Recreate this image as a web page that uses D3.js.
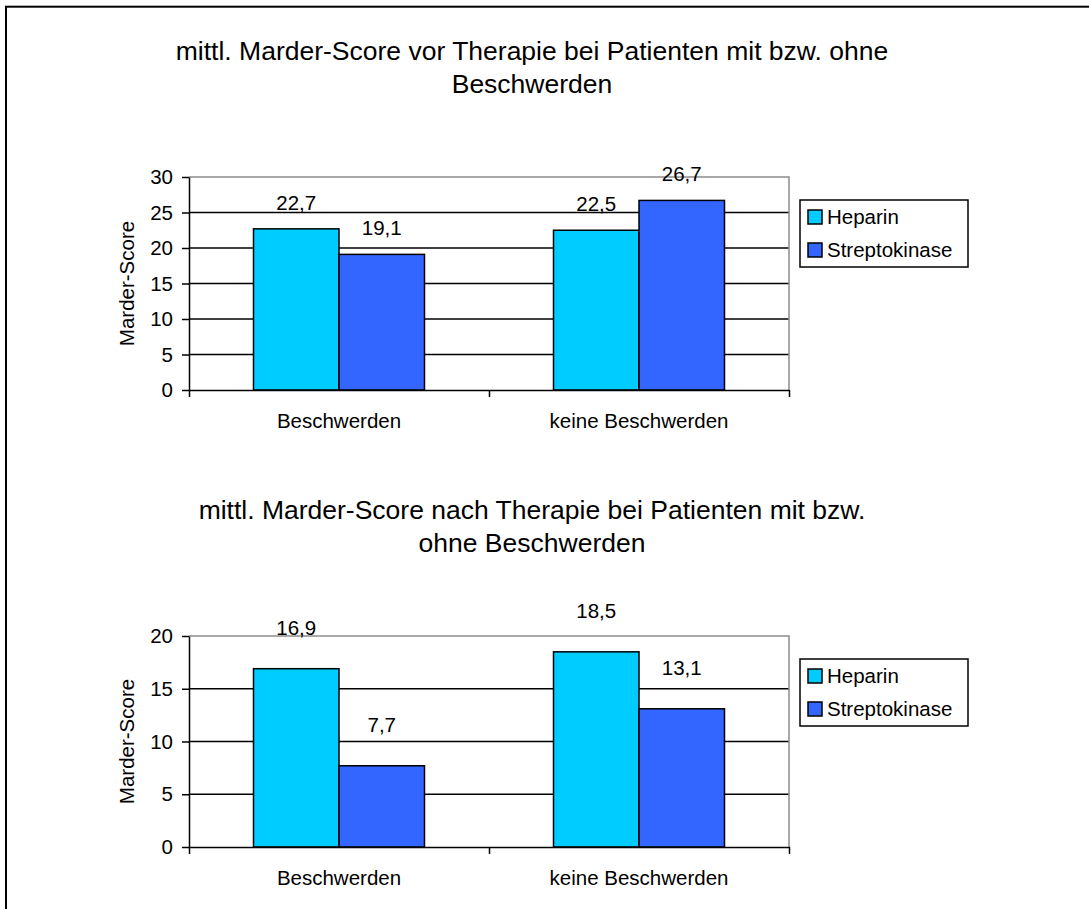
<!DOCTYPE html>
<html>
<head>
<meta charset="utf-8">
<script src="https://cdn.jsdelivr.net/npm/d3@7"></script>
<style>
  body { margin: 0; background: #fff; }
  svg { display: block; font-family: "Liberation Sans", Arial, sans-serif; }
</style>
</head>
<body>
<div id="chart"></div>
<script>

// data
var categories = ["Beschwerden", "keine Beschwerden"];
var seriesNames = ["Heparin", "Streptokinase"];
var vorHeparin = [22.7, 22.5];
var vorStreptokinase = [19.1, 26.7];
var nachHeparin = [16.9, 18.5];
var nachStreptokinase = [7.7, 13.1];
var vorTicks = [0, 5, 10, 15, 20, 25, 30];
var nachTicks = [0, 5, 10, 15, 20];
var vorTitle = ["mittl. Marder-Score vor Therapie bei Patienten mit bzw. ohne", "Beschwerden"];
var nachTitle = ["mittl. Marder-Score nach Therapie bei Patienten mit bzw.", "ohne Beschwerden"];
var yLabel = "Marder-Score";
var colors = ["#00CCFF", "#3366FF"];

var fmt = d3.formatLocale({decimal: ",", thousands: ".", grouping: [3], currency: ["", "€"]}).format(".1f");

function barChart() {

  var top = 177;
  var bottom = 390;
  var left = 189;
  var right = 789;
  var ticks = [0, 10];
  var title = [];
  var labelLift = 20;

  function chart(root, data) {

    var yScale = d3.scaleLinear()
      .domain([0, ticks[ticks.length - 1]])
      .range([bottom, top]);

    var x0 = d3.scaleBand()
      .domain(categories)
      .range([left, right])
      .paddingInner(0.43)
      .paddingOuter(0.215);

    var x1 = d3.scaleBand()
      .domain(seriesNames)
      .range([0, x0.bandwidth()]);

    var g = root.append("g");

    // title, two lines
    g.selectAll(".title")
      .data(title)
      .enter().append("text")
      .attr("class", "title")
      .attr("x", 532)
      .attr("y", function(d, i) { return top - 117 + i * 33; })
      .attr("text-anchor", "middle")
      .style("font-size", "26.5px")
      .text(function(d) { return d; });

    // grid lines between the axis and the top border
    g.selectAll(".grid")
      .data(ticks.filter(function(t) { return t > 0 && t < ticks[ticks.length - 1]; }))
      .enter().append("line")
      .attr("class", "grid")
      .attr("x1", left).attr("x2", right)
      .attr("y1", yScale).attr("y2", yScale)
      .attr("stroke", "#000")
      .attr("stroke-width", 1.5);

    // plot border, top and right, grey
    g.append("path")
      .attr("d", "M" + left + "," + top + "H" + right + "V" + bottom)
      .attr("fill", "none")
      .attr("stroke", "#8c8c8c")
      .attr("stroke-width", 1.5);

    // bars
    var rows = categories.map(function(c, i) {
      return seriesNames.map(function(s, j) {
        return {cat: c, series: s, value: data[j][i], color: colors[j]};
      });
    });
    var flat = d3.merge(rows);

    g.selectAll(".bar")
      .data(flat)
      .enter().append("rect")
      .attr("class", "bar")
      .attr("x", function(d) { return x0(d.cat) + x1(d.series); })
      .attr("y", function(d) { return yScale(d.value); })
      .attr("width", x1.bandwidth())
      .attr("height", function(d) { return bottom - yScale(d.value); })
      .attr("fill", function(d) { return d.color; })
      .attr("stroke", "#000")
      .attr("stroke-width", 1.5);

    g.selectAll(".value")
      .data(flat)
      .enter().append("text")
      .attr("class", "value")
      .attr("x", function(d) { return x0(d.cat) + x1(d.series) + x1.bandwidth() / 2; })
      .attr("y", function(d) { return yScale(d.value) - labelLift; })
      .attr("text-anchor", "middle")
      .style("font-size", "20.5px")
      .text(function(d) { return fmt(d.value); });

    // y axis
    var yAxis = g.append("g")
      .attr("transform", "translate(" + left + ",0)")
      .call(d3.axisLeft(yScale).tickValues(ticks).tickSize(7).tickSizeOuter(0).tickPadding(9).tickFormat(d3.format("d")));
    yAxis.select(".domain").attr("stroke", "#000").attr("stroke-width", 1.5);
    yAxis.selectAll(".tick line").attr("stroke", "#000").attr("stroke-width", 1.5);
    yAxis.selectAll(".tick text")
      .attr("fill", "#000")
      .style("font-family", "\"Liberation Sans\", Arial, sans-serif")
      .style("font-size", "20.5px");

    // x axis, ticks on the category boundaries
    var edge = d3.scaleLinear().domain([0, categories.length]).range([left, right]);
    var xAxis = g.append("g")
      .attr("transform", "translate(0," + bottom + ")")
      .call(d3.axisBottom(edge).tickValues(d3.range(categories.length + 1)).tickSize(7).tickSizeOuter(0).tickFormat(""));
    xAxis.select(".domain").attr("stroke", "#000").attr("stroke-width", 1.5);
    xAxis.selectAll(".tick line").attr("stroke", "#000").attr("stroke-width", 1.5);

    g.selectAll(".cat")
      .data(categories)
      .enter().append("text")
      .attr("class", "cat")
      .attr("x", function(d) { return x0(d) + x0.bandwidth() / 2; })
      .attr("y", bottom + 38)
      .attr("text-anchor", "middle")
      .style("font-size", "20.5px")
      .text(function(d) { return d; });

    // y axis title
    g.append("text")
      .attr("transform", "translate(134," + (top + bottom) / 2 + ") rotate(-90)")
      .attr("text-anchor", "middle")
      .style("font-size", "20.5px")
      .text(yLabel);

    // legend
    var lg = g.append("g")
      .attr("transform", "translate(" + (right + 11) + "," + (top + 23) + ")");
    lg.append("rect")
      .attr("width", 168).attr("height", 67)
      .attr("fill", "#fff")
      .attr("stroke", "#000")
      .attr("stroke-width", 1.5);
    var item = lg.selectAll(".item")
      .data(seriesNames)
      .enter().append("g")
      .attr("class", "item")
      .attr("transform", function(d, i) { return "translate(8," + (10 + i * 33) + ")"; });
    item.append("rect")
      .attr("width", 14).attr("height", 14)
      .attr("fill", function(d, i) { return colors[i]; })
      .attr("stroke", "#000")
      .attr("stroke-width", 1.5);
    item.append("text")
      .attr("x", 19)
      .attr("y", 14)
      .style("font-size", "20.5px")
      .text(function(d) { return d; });
  }

  chart.top = function(_) {
    if (!arguments.length) return top;
    top = _;
    return chart;
  };

  chart.bottom = function(_) {
    if (!arguments.length) return bottom;
    bottom = _;
    return chart;
  };

  chart.ticks = function(_) {
    if (!arguments.length) return ticks;
    ticks = _;
    return chart;
  };

  chart.title = function(_) {
    if (!arguments.length) return title;
    title = _;
    return chart;
  };

  chart.labelLift = function(_) {
    if (!arguments.length) return labelLift;
    labelLift = _;
    return chart;
  };

  return chart;
}

var svg = d3.select("#chart").append("svg")
  .attr("width", 1089)
  .attr("height", 909);

svg.append("rect")
  .attr("width", 1089).attr("height", 909)
  .attr("fill", "#fff");

// outer frame, runs off the right and bottom edge
svg.append("rect")
  .attr("x", 6).attr("y", 6.7)
  .attr("width", 1200).attr("height", 1000)
  .attr("fill", "none")
  .attr("stroke", "#000")
  .attr("stroke-width", 2);

var vorChart = barChart().top(177).bottom(390).ticks(vorTicks).title(vorTitle).labelLift(19);
vorChart(svg, [vorHeparin, vorStreptokinase]);

var nachChart = barChart().top(636).bottom(847).ticks(nachTicks).title(nachTitle).labelLift(34);
nachChart(svg, [nachHeparin, nachStreptokinase]);

</script>
</body>
</html>
